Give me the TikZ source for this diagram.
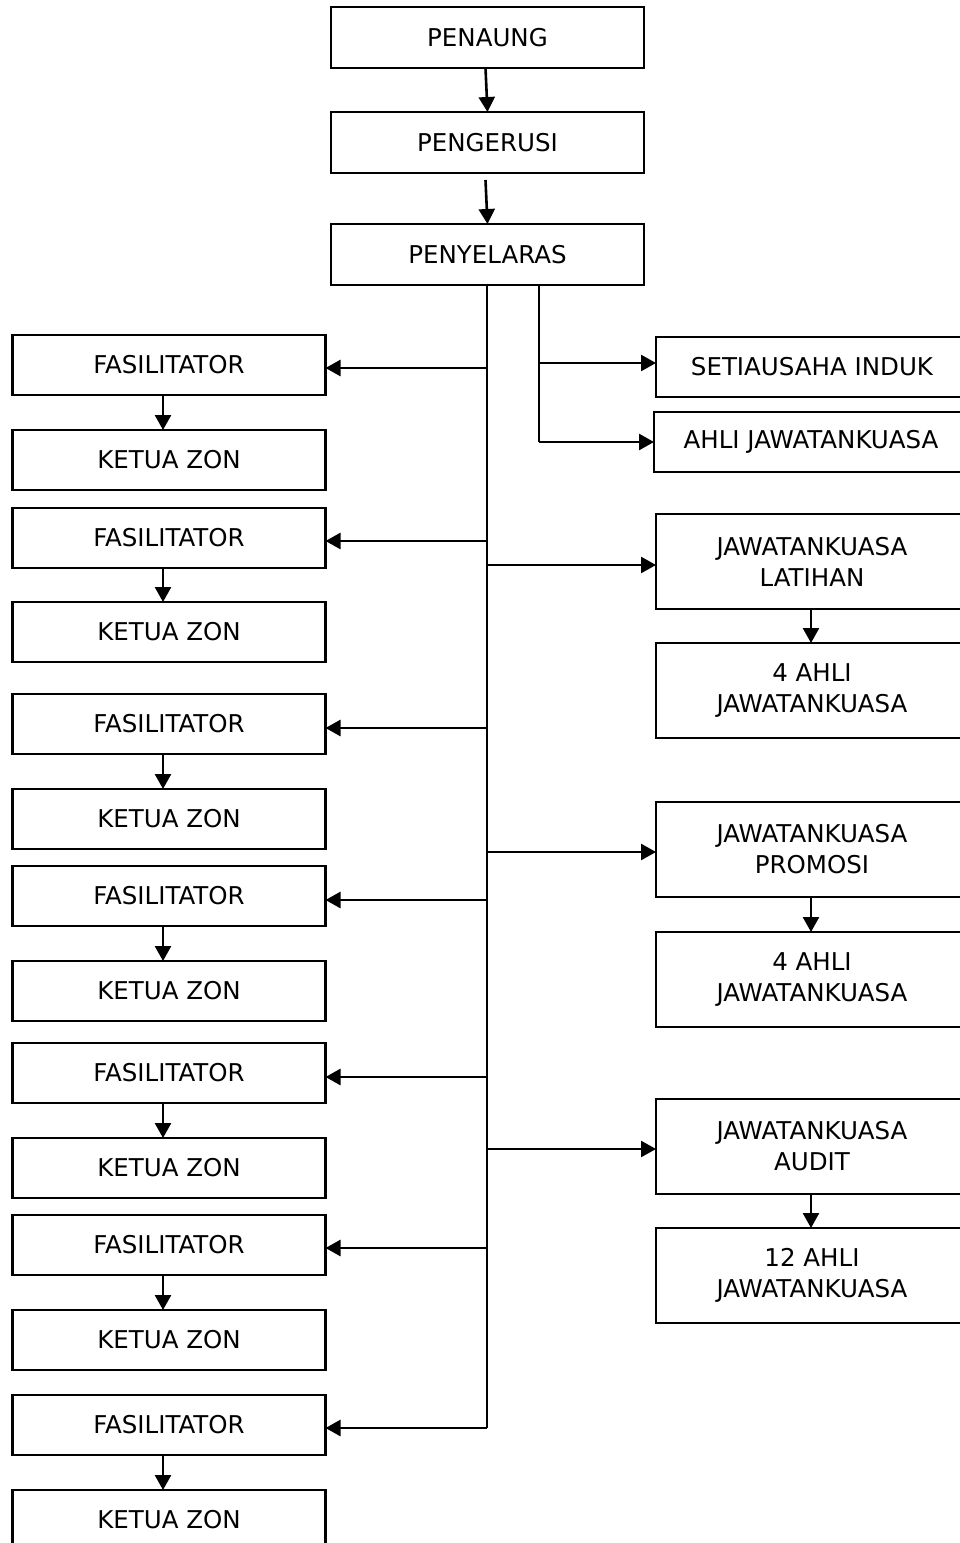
\documentclass[tikz,border=0pt]{standalone}
\usepackage{fontspec}
\setmainfont{DejaVu Sans}
\usetikzlibrary{arrows.meta}
\begin{document}
\begin{tikzpicture}[x=1pt,y=-1pt,
  box/.style={draw=black,line width=2.4pt,fill=white,inner sep=0pt,outer sep=0pt,
    minimum width=313pt,align=center,font=\fontsize{24.5}{31}\selectfont},
  onel/.style={box,minimum height=60pt},
  twol/.style={box,minimum height=95pt},
  arr/.style={line width=2.6pt,-{Triangle[length=15pt,width=16pt]}},
  ln/.style={line width=2.6pt}]
\useasboundingbox (0,0) rectangle (960,1543);
\clip (0,0) rectangle (960,1543);
% top chain
\node[onel,minimum height=61pt] (pen) at (487.5,37.5) {PENAUNG};
\node[onel,minimum height=61pt] (peng) at (487.5,142.5) {PENGERUSI};
\node[onel,minimum height=61pt] (peny) at (487.5,254.5) {PENYELARAS};
\draw[arr] ([xshift=-2pt]pen.south) -- (peng.north);
\draw[arr] ([xshift=-2pt,yshift=-7pt]peng.south) -- (peny.north);
% right column
\node[onel,minimum width=312pt] (setia) at (812,367) {SETIAUSAHA INDUK};
\node[onel,minimum width=314pt] (ahli) at (811,442) {AHLI JAWATANKUASA};
\node[twol,minimum width=312pt] (lat) at (812,561.5) {JAWATANKUASA\\LATIHAN};
\node[twol,minimum width=312pt] (lat4) at (812,690.5) {4 AHLI\\JAWATANKUASA};
\node[twol,minimum width=312pt] (prom) at (812,849.5) {JAWATANKUASA\\PROMOSI};
\node[twol,minimum width=312pt] (prom4) at (812,979.5) {4 AHLI\\JAWATANKUASA};
\node[twol,minimum width=312pt] (aud) at (812,1146.5) {JAWATANKUASA\\AUDIT};
\node[twol,minimum width=312pt] (aud12) at (812,1275.5) {12 AHLI\\JAWATANKUASA};
% left column
\foreach \i/\ft/\kt in {1/335/430,2/508/602,3/694/789,4/866/961,5/1043/1138,6/1215/1310,7/1395/1490}{
  \node[onel] (f\i) at (169,\ft+30) {FASILITATOR};
  \node[onel] (k\i) at (169,\kt+30) {KETUA ZON};
  \draw[arr] ([xshift=-6pt]f\i.south) -- ([xshift=-6pt]k\i.north);
}
% trunk coordinates
\coordinate (top) at (487,285);
\coordinate (t1) at (487,368);
\coordinate (t2) at (487,541);
\coordinate (t3) at (487,728);
\coordinate (t4) at (487,900);
\coordinate (t5) at (487,1077);
\coordinate (t6) at (487,1248);
\coordinate (t7) at (487,1428);
\coordinate (r1) at (487,565);
\coordinate (r2) at (487,852);
\coordinate (r3) at (487,1149);
\coordinate (b0) at (539,285);
\coordinate (b1) at (539,363);
\coordinate (b2) at (539,442);
\draw[ln] (top) -- (t7);
\draw[ln] (b0) -- (b2);
\foreach \i in {1,...,6}{
  \draw[arr] ([xshift=-1pt]t\i) -- (t\i -| f\i.east);
}
\draw[arr] (t7) -- (t7 -| f7.east);
\draw[arr] (b1) -- (b1 -| setia.west);
\draw[arr] (b2) -- (b2 -| ahli.west);
\draw[arr] (r1) -- (r1 -| lat.west);
\draw[arr] (r2) -- (r2 -| prom.west);
\draw[arr] (r3) -- (r3 -| aud.west);
\draw[arr] ([xshift=-1pt]lat.south) -- ([xshift=-1pt]lat4.north);
\draw[arr] ([xshift=-1pt]prom.south) -- ([xshift=-1pt]prom4.north);
\draw[arr] ([xshift=-1pt]aud.south) -- ([xshift=-1pt]aud12.north);
\end{tikzpicture}
\end{document}
